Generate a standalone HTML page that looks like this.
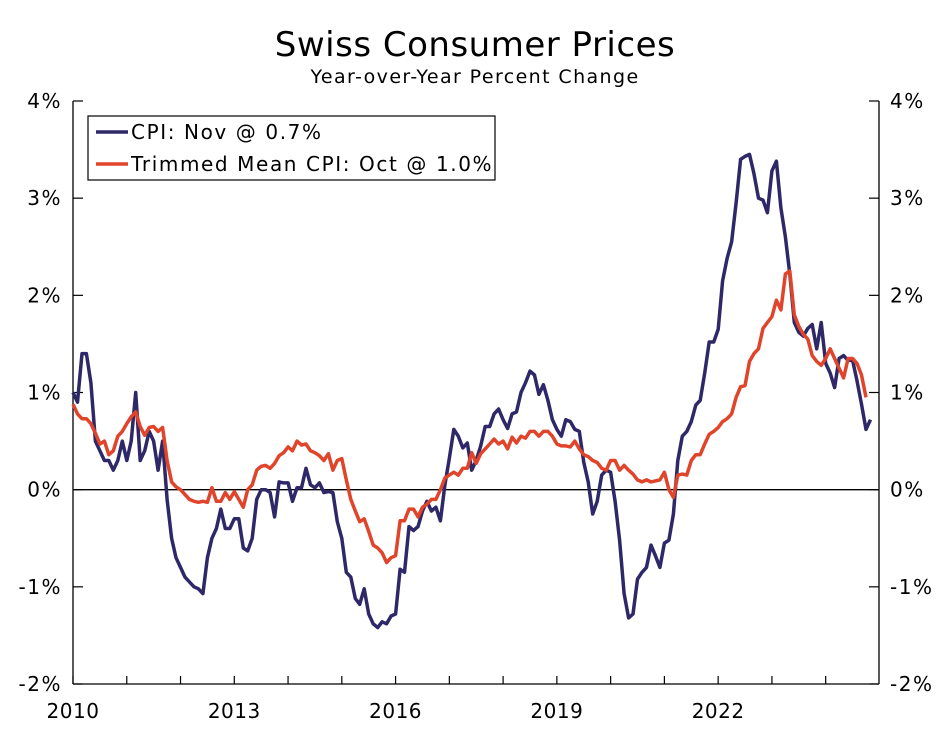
<!DOCTYPE html>
<html><head><meta charset="utf-8"><style>
body{margin:0;background:#fff;}
svg text{font-family:"DejaVu Sans","Liberation Sans",sans-serif;fill:#000;}
</style></head><body>
<svg id="chart" width="949" height="727" viewBox="0 0 949 727" xmlns="http://www.w3.org/2000/svg">
<text x="475" y="56" font-size="34" letter-spacing="0.5" text-anchor="middle">Swiss Consumer Prices</text>
<text x="475" y="83" font-size="19" letter-spacing="1.4" text-anchor="middle">Year-over-Year Percent Change</text>
<g id="axes"></g>
<g id="series"></g>
<g>
<rect x="88" y="116" width="407" height="64" fill="#fff" stroke="#000" stroke-width="1.2"/>
<line x1="96" y1="132" x2="128" y2="132" stroke="#2e2868" stroke-width="3.5"/>
<text x="131" y="139" font-size="20" letter-spacing="1.6">CPI: Nov @ 0.7%</text>
<line x1="96" y1="164" x2="128" y2="164" stroke="#e0442a" stroke-width="3.5"/>
<text x="131" y="171" font-size="20" letter-spacing="1.6">Trimmed Mean CPI: Oct @ 1.0%</text>
</g>
</svg>
<script>
const yTicks=[4,3,2,1,0,-1,-2];
const yTickLabels=["4%","3%","2%","1%","0%","-1%","-2%"];
const xTickYears=[2010,2013,2016,2019,2022];
const cpi=[1.0,0.9,1.4,1.4,1.1,0.5,0.4,0.3,0.3,0.2,0.3,0.5,
0.3,0.5,1.0,0.3,0.4,0.6,0.5,0.2,0.5,-0.1,-0.5,-0.7,
-0.8,-0.9,-0.95,-1.0,-1.02,-1.07,-0.7,-0.5,-0.4,-0.2,-0.4,-0.4,
-0.3,-0.3,-0.6,-0.63,-0.5,-0.1,0.0,0.0,-0.03,-0.28,0.08,0.07,
0.07,-0.12,0.02,0.02,0.22,0.05,0.02,0.07,-0.03,-0.02,-0.03,-0.33,
-0.5,-0.85,-0.9,-1.12,-1.18,-1.02,-1.28,-1.38,-1.42,-1.36,-1.38,-1.3,
-1.28,-0.82,-0.85,-0.38,-0.42,-0.38,-0.22,-0.12,-0.22,-0.18,-0.32,0.05,
0.32,0.62,0.55,0.43,0.48,0.2,0.3,0.45,0.65,0.65,0.78,0.83,
0.72,0.63,0.78,0.8,1.0,1.1,1.22,1.18,0.98,1.08,0.92,0.72,
0.62,0.55,0.72,0.7,0.62,0.6,0.28,0.08,-0.25,-0.12,0.15,0.2,
0.18,-0.12,-0.52,-1.07,-1.32,-1.28,-0.92,-0.85,-0.8,-0.57,-0.68,-0.8,
-0.55,-0.52,-0.25,0.3,0.55,0.6,0.7,0.87,0.92,1.2,1.52,1.52,
1.65,2.15,2.38,2.55,2.95,3.4,3.43,3.45,3.25,3.0,2.98,2.85,
3.28,3.38,2.9,2.6,2.22,1.72,1.62,1.58,1.66,1.7,1.45,1.72,
1.3,1.2,1.05,1.35,1.38,1.33,1.33,1.12,0.88,0.62,0.72];
const trimmed=[0.88,0.78,0.73,0.73,0.68,0.58,0.47,0.5,0.36,0.4,0.55,0.6,
0.68,0.75,0.8,0.65,0.56,0.64,0.65,0.6,0.64,0.3,0.08,0.03,
0.0,-0.05,-0.1,-0.12,-0.13,-0.12,-0.13,0.02,-0.12,-0.12,-0.03,-0.1,
-0.02,-0.1,-0.18,0.0,0.05,0.2,0.24,0.25,0.22,0.27,0.35,0.38,
0.44,0.4,0.5,0.46,0.47,0.4,0.38,0.35,0.3,0.37,0.2,0.3,
0.32,0.1,-0.1,-0.22,-0.33,-0.3,-0.43,-0.57,-0.6,-0.65,-0.75,-0.7,
-0.68,-0.32,-0.32,-0.2,-0.2,-0.28,-0.18,-0.15,-0.1,-0.1,0.0,0.12,
0.15,0.18,0.15,0.22,0.22,0.38,0.27,0.37,0.42,0.47,0.52,0.47,
0.5,0.42,0.54,0.48,0.55,0.53,0.6,0.6,0.55,0.6,0.6,0.55,
0.47,0.45,0.45,0.44,0.5,0.42,0.36,0.34,0.3,0.28,0.22,0.2,
0.3,0.3,0.2,0.25,0.2,0.16,0.1,0.08,0.1,0.08,0.09,0.1,
0.18,0.0,-0.08,0.15,0.16,0.15,0.3,0.36,0.36,0.47,0.57,0.6,
0.64,0.7,0.73,0.78,0.95,1.06,1.07,1.32,1.4,1.45,1.66,1.72,
1.78,1.95,1.85,2.22,2.25,1.8,1.68,1.6,1.55,1.38,1.32,1.28,
1.35,1.45,1.35,1.25,1.15,1.35,1.35,1.3,1.18,0.95];
const NS="http://www.w3.org/2000/svg";
const X0=73,X1=879,YT=101,YB=684;
const startYear=2010,endYear=2024+11.9/12;
function xScale(m){return X0+(m/12)/(endYear-startYear)*(X1-X0);}
function yScale(v){return YB-(v-(-2))/6*(YB-YT);}
const axes=document.getElementById('axes');
function mk(tag,attrs,parent){const e=document.createElementNS(NS,tag);for(const k in attrs)e.setAttribute(k,attrs[k]);parent.appendChild(e);return e;}
let e;
e=mk('line',{x1:X0,y1:YT,x2:X0,y2:YB,stroke:'#000','stroke-width':1.3},axes);


e=mk('line',{x1:X1,y1:YT,x2:X1,y2:YB,stroke:'#000','stroke-width':1.3},axes);


e=mk('line',{x1:X0,y1:YB,x2:X1,y2:YB,stroke:'#000','stroke-width':1.3},axes);


e=mk('line',{x1:X0,y1:yScale(0),x2:X1,y2:yScale(0),stroke:'#000','stroke-width':1.3},axes);


yTicks.forEach((v,i)=>{const y=yScale(v);
 e=mk('line',{x1:X0,y1:y,x2:X0+10,y2:y,stroke:'#000','stroke-width':1.2},axes);
 
 
 e=mk('line',{x1:X1-10,y1:y,x2:X1,y2:y,stroke:'#000','stroke-width':1.2},axes);
 
 
 e=mk('text',{x:X0-11,y:y+7,'font-size':20,'letter-spacing':1.5,'text-anchor':'end'},axes);e.textContent=yTickLabels[i];
 
 
 e=mk('text',{x:X1+11,y:y+7,'font-size':20,'letter-spacing':1.5,'text-anchor':'start'},axes);e.textContent=yTickLabels[i];
 
 
});
for(let yr=2010;yr<=2024;yr++){const x=xScale((yr-startYear)*12);
 e=mk('line',{x1:x,y1:YB,x2:x,y2:YB-8,stroke:'#000','stroke-width':1.2},axes);
 
 }
xTickYears.forEach(yr=>{const x=xScale((yr-startYear)*12);
 e=mk('text',{x:x,y:718,'font-size':20,'letter-spacing':0.5,'text-anchor':'middle'},axes);e.textContent=String(yr);
 
 });
const series=document.getElementById('series');
function path(arr,color,name){const d=arr.map((v,i)=>(i?'L':'M')+xScale(i).toFixed(1)+' '+yScale(v).toFixed(1)).join(' ');
 const p=mk('path',{d:d,fill:'none',stroke:color,'stroke-width':3.5,'stroke-linejoin':'round'},series);
 
 }
path(cpi,'#2e2868','cpi-line');
path(trimmed,'#e0442a','trimmed-mean-cpi-line');
</script>
</body></html>
